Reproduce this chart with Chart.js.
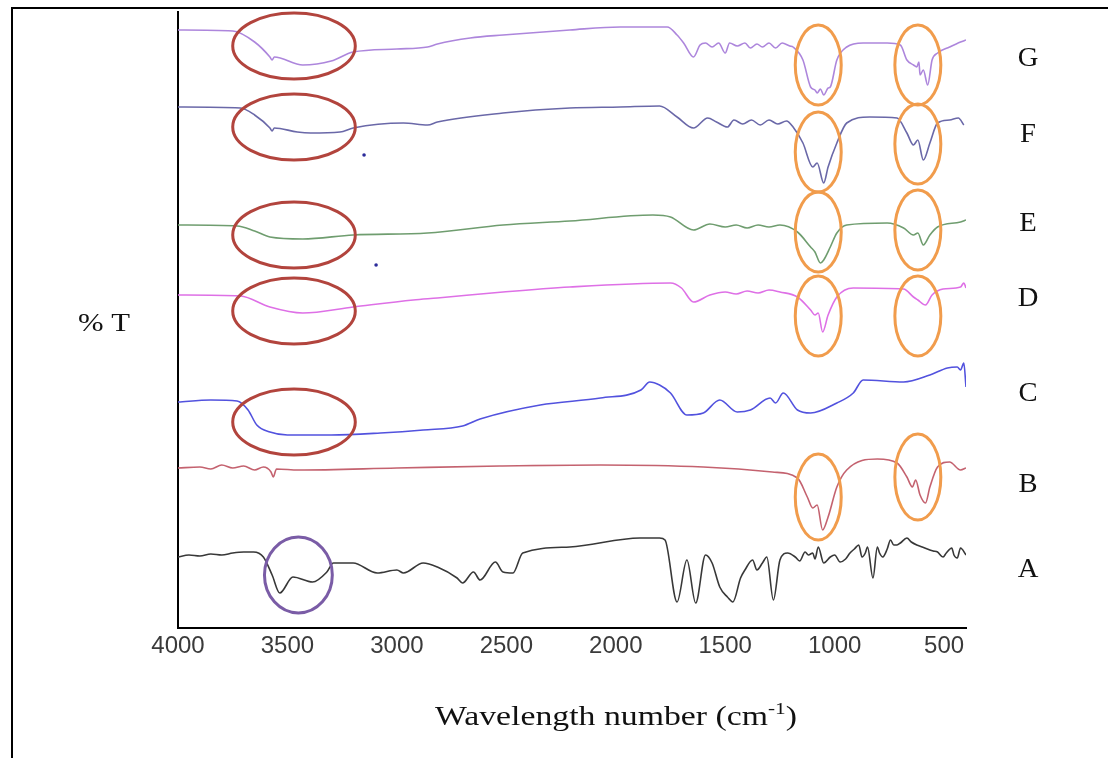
<!DOCTYPE html>
<html>
<head>
<meta charset="utf-8">
<script src="https://cdn.jsdelivr.net/npm/chart.js@4.4.1/dist/chart.umd.min.js"></script>
<style>
  html, body { margin: 0; padding: 0; background: #fff; }
  #wrap { width: 1108px; height: 758px; }
</style>
</head>
<body>
<div id="wrap"><canvas id="ftir" width="1108" height="758"></canvas></div>
<script>
// wavenumber ticks (cm-1)
const xTicks = [4000, 3500, 3000, 2500, 2000, 1500, 1000, 500];

// spectra, [wavenumber, offset %T (a.u.)]
const specG = [[4000,595],[3750,594],[3650,583],[3580,568],[3570,565],[3560,568],[3430,560],[3300,564],[3200,573],[3000,576],[2860,578],[2815,581],[2665,587],[2515,590],[2210,595],[1980,598],[1765,598],[1720,590],[1690,582],[1645,568],[1615,580],[1590,582],[1560,578],[1530,582],[1500,572],[1480,582],[1445,579],[1410,582],[1385,577],[1355,581],[1330,578],[1300,582],[1270,577],[1240,582],[1205,579],[1190,578],[1145,565],[1110,538],[1090,535],[1080,532],[1065,536],[1050,530],[1030,537],[1020,538],[990,565],[945,578],[870,582],[760,582],[700,580],[670,565],[640,560],[625,558],[615,563],[610,550],[595,555],[575,540],[555,565],[530,572],[475,578],[425,583],[400,585]];
const specF = [[4000,518],[3715,517],[3650,510],[3580,497],[3570,494],[3560,497],[3455,493],[3395,492],[3260,493],[3200,497],[2970,502],[2860,500],[2815,503],[2515,512],[2210,517],[1980,518],[1800,519],[1720,508],[1645,497],[1580,507],[1540,503],[1490,498],[1460,505],[1420,501],[1380,505],[1340,500],[1300,505],[1260,501],[1220,504],[1190,498],[1145,482],[1100,458],[1080,462],[1050,442],[1030,458],[990,482],[945,502],[840,508],[715,507],[670,492],[640,480],[620,485],[595,465],[565,482],[530,502],[475,505],[435,507],[410,500]];
const specE = [[4000,400],[3730,399],[3650,394],[3580,388],[3430,386],[3200,390],[2860,392],[2515,400],[2210,404],[1830,410],[1750,408],[1645,395],[1570,401],[1500,398],[1450,400],[1400,397],[1350,400],[1300,398],[1250,400],[1170,393],[1110,378],[1090,373],[1065,362],[1050,365],[1020,378],[990,392],[945,400],[760,402],[685,397],[640,390],[620,392],[595,380],[565,390],[530,398],[425,403],[400,405]];
const specD = [[4000,330],[3715,329],[3580,318],[3430,312],[3200,318],[2925,325],[2815,327],[2515,333],[2210,338],[1750,342],[1700,337],[1645,323],[1570,330],[1500,333],[1450,331],[1400,334],[1350,332],[1300,335],[1250,333],[1170,328],[1110,315],[1090,310],[1075,312],[1055,293],[1030,310],[990,328],[915,337],[685,336],[640,328],[620,325],[585,320],[555,330],[505,336],[425,338],[410,342],[400,337]];
const specC = [[4000,223],[3850,225],[3730,224],[3680,215],[3640,200],[3580,193],[3500,190],[3300,190],[3075,192],[2880,195],[2700,199],[2620,206],[2345,220],[2070,227],[1885,235],[1845,243],[1800,240],[1750,232],[1675,210],[1600,212],[1525,225],[1445,213],[1385,215],[1295,227],[1270,222],[1235,232],[1170,215],[1110,212],[990,222],[915,232],[870,245],[685,243],[565,250],[485,257],[440,258],[425,255],[410,262],[400,238]];
const specB = [[4000,157],[3900,158],[3850,156],[3800,160],[3750,157],[3700,159],[3650,155],[3610,158],[3575,153],[3565,148],[3550,156],[3450,155],[3000,157],[2530,159],[2070,160],[1600,158],[1285,153],[1170,147],[1125,128],[1100,117],[1080,120],[1055,95],[1030,108],[990,138],[945,155],[805,166],[715,162],[670,148],[645,138],[630,145],[610,130],[585,122],[565,138],[530,158],[475,163],[425,155],[400,157]];
const specA = [[4000,68],[3950,70],[3900,69],[3850,71],[3800,70],[3750,72],[3700,73],[3655,73],[3610,68],[3570,50],[3535,32],[3475,48],[3385,43],[3320,53],[3290,62],[3200,62],[3090,52],[3000,55],[2970,52],[2880,62],[2815,58],[2725,47],[2700,42],[2650,53],[2620,45],[2550,63],[2515,53],[2470,52],[2425,72],[2210,78],[1890,87],[1800,87],[1775,85],[1720,23],[1675,65],[1635,22],[1590,70],[1560,62],[1525,38],[1490,28],[1465,23],[1430,47],[1410,55],[1375,65],[1355,55],[1330,62],[1310,68],[1280,25],[1250,65],[1215,72],[1180,68],[1160,64],[1135,73],[1120,70],[1100,72],[1090,66],[1075,78],[1050,62],[1020,68],[1000,70],[975,63],[950,66],[930,72],[910,76],[890,80],[875,68],[860,72],[850,78],[825,47],[805,78],[795,72],[780,68],[760,76],[745,85],[730,80],[715,80],[700,82],[670,87],[650,83],[625,80],[600,78],[565,75],[550,74],[530,73],[505,68],[490,72],[465,77],[455,70],[440,67],[425,77],[400,70]];
const strayDots = [[3150,470],[3095,360]];

const sampleNames = ["G", "F", "E", "D", "C", "B", "A"];

// marked bands (centre wavenumber, centre offset)
const ohRings   = [[3470,579],[3470,498],[3470,390],[3470,314],[3470,203]];
const bandRings = [[1075,560],[620,560],[1075,473],[620,481],[1075,393],[620,395],[1075,309],[620,309],[1075,128],[620,148]];
const acidRing  = [[3450,50]];

const SERIF = "'Liberation Serif', 'Times New Roman', serif";
const toXY = arr => arr.map(p => ({ x: p[0], y: p[1] }));

function line(data, color) {
  return {
    data: toXY(data), borderColor: color, borderWidth: 1.6,
    pointRadius: 0, cubicInterpolationMode: "monotone", fill: false,
  };
}

// ---- annotation drawing ----
function ring(chart, c, halfW, halfH, color) {
  const { ctx, scales: { x, y } } = chart;
  const cx = x.getPixelForValue(c[0]);
  const cy = y.getPixelForValue(c[1]);
  const rx = Math.abs(x.getPixelForValue(c[0] - halfW) - cx);
  const ry = Math.abs(y.getPixelForValue(c[1] + halfH) - cy);
  ctx.beginPath();
  ctx.ellipse(cx, cy, rx, ry, 0, 0, Math.PI * 2);
  ctx.strokeStyle = color;
  ctx.lineWidth = 3;
  ctx.stroke();
}

// the scan is a bit wide, so serif text gets stretched sideways
function wideText(ctx, parts, cx, base, width) {
  let total = 0;
  parts.forEach(p => { ctx.font = p.size + "px " + SERIF; p.w = ctx.measureText(p.t).width; total += p.w; });
  const k = width / total;
  ctx.save();
  ctx.translate(cx - width / 2, base);
  ctx.scale(k, 1);
  ctx.textAlign = "left";
  let x0 = 0;
  parts.forEach(p => { ctx.font = p.size + "px " + SERIF; ctx.fillText(p.t, x0, -(p.rise || 0)); x0 += p.w; });
  ctx.restore();
}

const overlay = {
  id: "overlay",
  beforeDraw(chart) {
    const ctx = chart.ctx;
    ctx.save();
    ctx.fillStyle = "#fff";
    ctx.fillRect(0, 0, chart.width, chart.height);
    ctx.restore();
  },
  afterDatasetsDraw(chart) {
    const ctx = chart.ctx;
    ctx.save();
    ohRings.forEach(c => ring(chart, c, 280, 33, "#b2443d"));
    bandRings.forEach((c, i) => ring(chart, c, 105, i >= 8 ? 43 : 40, "#f19c4c"));
    acidRing.forEach(c => ring(chart, c, 155, 38, "#7a5ca6"));
    ctx.restore();
  },
  afterDraw(chart) {
    const ctx = chart.ctx;
    ctx.save();
    // outer frame
    ctx.strokeStyle = "#000";
    ctx.lineWidth = 2;
    ctx.beginPath();
    ctx.moveTo(12, 758); ctx.lineTo(12, 8); ctx.lineTo(1108, 8);
    ctx.stroke();

    ctx.fillStyle = "#111";
    ctx.textBaseline = "alphabetic";
    // sample letters
    const labelY = [57, 133, 222, 297, 392, 483, 568];
    sampleNames.forEach((n, i) => {
      ctx.font = "27px " + SERIF;
      const w = ctx.measureText(n).width * 1.06;
      wideText(ctx, [{ t: n, size: 27 }], 1028, labelY[i] + 9, w);
    });

    // y title
    wideText(ctx, [{ t: "% T", size: 26 }], 104, 331, 52);

    // x title with superscript
    wideText(ctx, [
      { t: "Wavelength number (cm", size: 27 },
      { t: "-1", size: 17, rise: 11 },
      { t: ")", size: 27 },
    ], 616, 725, 362);
    ctx.restore();
  }
};

const datasets = [
  line(specG, "#ad86dc"),
  line(specF, "#6a68a8"),
  line(specE, "#6f9d6f"),
  line(specD, "#de70e6"),
  line(specC, "#5252de"),
  line(specB, "#c4626f"),
  line(specA, "#383838"),
  { type: "scatter", data: toXY(strayDots), pointRadius: 1.8, backgroundColor: "#2b2b9a", borderWidth: 0 },
];

new Chart(document.getElementById("ftir"), {
  type: "line",
  data: { datasets },
  options: {
    responsive: false, animation: false, devicePixelRatio: 1,
    layout: { padding: { left: 178, right: 142, top: 12, bottom: 0 } },
    plugins: { legend: { display: false }, tooltip: { enabled: false } },
    scales: {
      x: {
        type: "linear", reverse: true, min: 400, max: 4000,
        afterBuildTicks: s => { s.ticks = xTicks.map(v => ({ value: v })); },
        afterFit: s => { s.height = 130; },
        grid: { display: false },
        border: { display: true, color: "#000", width: 2 },
        ticks: {
          padding: -4, color: "#3a3a3a",
          callback: v => String(v),
          font: { family: "'Liberation Sans', Arial, sans-serif", size: 24 },
        },
      },
      y: {
        type: "linear", min: -3, max: 613,
        afterFit: s => { s.width = 0; },
        grid: { display: false },
        border: { display: true, color: "#000", width: 2 },
        ticks: { display: false },
      },
    },
  },
  plugins: [overlay],
});
</script>
</body>
</html>
